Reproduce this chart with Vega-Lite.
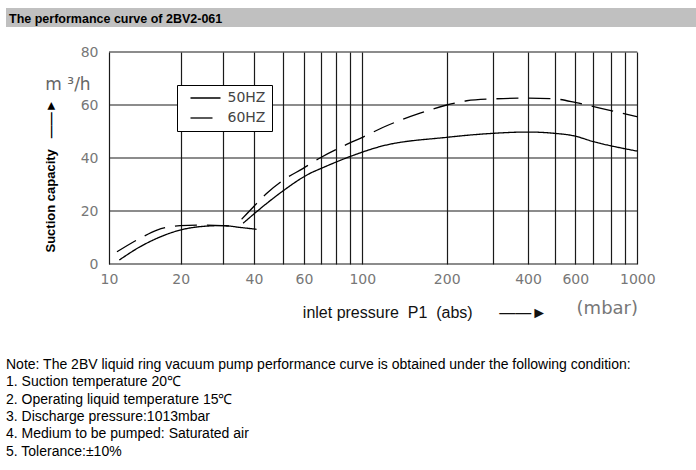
{
  "$schema": "https://vega.github.io/schema/vega-lite/v6.json",
  "padding": {"left": 6, "top": 8, "right": 0, "bottom": 0},
  "spacing": 18,
  "background": "white",
  "config": {"view": {"stroke": null}, "font": "Liberation Sans"},
  "vconcat": [
    {
      "width": 690,
      "height": 19,
      "view": {"fill": "#c0c0c0", "stroke": null},
      "data": {"values": [{"t": "The performance curve of 2BV2-061"}]},
      "mark": {"type": "text", "align": "left", "baseline": "middle", "dx": 3, "dy": 1, "font": "Liberation Sans", "fontWeight": "bold", "fontSize": 12.5, "color": "#000"},
      "encoding": {
        "x": {"datum": 0, "type": "quantitative", "scale": {"domain": [0, 1]}, "axis": null},
        "y": {"datum": 0.5, "type": "quantitative", "scale": {"domain": [0, 1]}, "axis": null},
        "text": {"field": "t"}
      }
    },
    {
      "width": 632,
      "height": 212,
      "layer": [
        {
          "data": {"values": [{"q": 0}, {"q": 20}, {"q": 40}, {"q": 60}, {"q": 80}]},
          "mark": {"type": "rule", "color": "#1a1a1a", "strokeWidth": 1.2},
          "encoding": {
            "x": {"datum": 10, "type": "quantitative"},
            "x2": {"datum": 1000},
            "y": {"field": "q", "type": "quantitative"}
          }
        },
        {
          "data": {"values": [
            {"series": "50HZ", "seg": "a", "p": 11.05, "q": 1.5},
            {"series": "50HZ", "seg": "a", "p": 13.5, "q": 6.5},
            {"series": "50HZ", "seg": "a", "p": 15.9, "q": 9.7},
            {"series": "50HZ", "seg": "a", "p": 19.9, "q": 12.8},
            {"series": "50HZ", "seg": "a", "p": 24.1, "q": 14.1},
            {"series": "50HZ", "seg": "a", "p": 30, "q": 14.5},
            {"series": "50HZ", "seg": "a", "p": 35.2, "q": 13.8},
            {"series": "50HZ", "seg": "a", "p": 40.8, "q": 13.1},
            {"series": "50HZ", "seg": "b", "p": 36.2, "q": 15.4},
            {"series": "50HZ", "seg": "b", "p": 44.2, "q": 22.9},
            {"series": "50HZ", "seg": "b", "p": 50, "q": 27.5},
            {"series": "50HZ", "seg": "b", "p": 63.3, "q": 34.2},
            {"series": "50HZ", "seg": "b", "p": 70, "q": 36.1},
            {"series": "50HZ", "seg": "b", "p": 90, "q": 40.5},
            {"series": "50HZ", "seg": "b", "p": 115.6, "q": 44.3},
            {"series": "50HZ", "seg": "b", "p": 200, "q": 47.8},
            {"series": "50HZ", "seg": "b", "p": 300, "q": 49.3},
            {"series": "50HZ", "seg": "b", "p": 400, "q": 49.8},
            {"series": "50HZ", "seg": "b", "p": 500, "q": 49.3},
            {"series": "50HZ", "seg": "b", "p": 590, "q": 48.4},
            {"series": "50HZ", "seg": "b", "p": 700, "q": 46.2},
            {"series": "50HZ", "seg": "b", "p": 1000, "q": 42.6},
            {"series": "60HZ", "seg": "a", "p": 10.8, "q": 4.6},
            {"series": "60HZ", "seg": "a", "p": 13.5, "q": 9.7},
            {"series": "60HZ", "seg": "a", "p": 15.9, "q": 12.8},
            {"series": "60HZ", "seg": "a", "p": 19.9, "q": 14.5},
            {"series": "60HZ", "seg": "a", "p": 23.3, "q": 14.7},
            {"series": "60HZ", "seg": "a", "p": 30, "q": 14.5},
            {"series": "60HZ", "seg": "a", "p": 33, "q": 14.2},
            {"series": "60HZ", "seg": "b", "p": 35.7, "q": 16.9},
            {"series": "60HZ", "seg": "b", "p": 41.4, "q": 23.5},
            {"series": "60HZ", "seg": "b", "p": 44.2, "q": 26.7},
            {"series": "60HZ", "seg": "b", "p": 50.3, "q": 31.7},
            {"series": "60HZ", "seg": "b", "p": 59.6, "q": 36.1},
            {"series": "60HZ", "seg": "b", "p": 70, "q": 40.3},
            {"series": "60HZ", "seg": "b", "p": 85.3, "q": 44.5},
            {"series": "60HZ", "seg": "b", "p": 101, "q": 48},
            {"series": "60HZ", "seg": "b", "p": 118.8, "q": 51.6},
            {"series": "60HZ", "seg": "b", "p": 160.7, "q": 56.9},
            {"series": "60HZ", "seg": "b", "p": 200, "q": 60},
            {"series": "60HZ", "seg": "b", "p": 238.6, "q": 61.6},
            {"series": "60HZ", "seg": "b", "p": 300, "q": 62.3},
            {"series": "60HZ", "seg": "b", "p": 400, "q": 62.6},
            {"series": "60HZ", "seg": "b", "p": 500, "q": 62.3},
            {"series": "60HZ", "seg": "b", "p": 604, "q": 60.9},
            {"series": "60HZ", "seg": "b", "p": 736, "q": 58.8},
            {"series": "60HZ", "seg": "b", "p": 1000, "q": 55.6}
          ]},
          "mark": {"type": "line", "interpolate": "monotone", "color": "black", "strokeWidth": 1.3},
          "encoding": {
            "x": {
              "field": "p", "type": "quantitative",
              "scale": {
                "type": "log", "nice": false,
                "domain": [10, 20, 30, 40, 50, 60, 70, 80, 90, 100, 200, 300, 400, 500, 600, 700, 800, 900, 1000],
                "range": [103, 174.7, 216.7, 248, 276.7, 298, 315.3, 329.7, 343.7, 356.3, 440.7, 486.7, 522, 548.7, 569.3, 587.3, 605, 619, 631.3]
              },
              "axis": {
                "values": [10, 20, 30, 40, 50, 60, 70, 80, 90, 100, 200, 300, 400, 500, 600, 700, 800, 900, 1000],
                "format": "d",
                "labelExpr": "indexof([10,20,40,60,100,200,400,600,1000], datum.value) >= 0 ? datum.label : ''",
                "labelOverlap": false,
                "labelFlush": false,
                "grid": true, "gridColor": "#1a1a1a", "gridWidth": 1.2, "gridOpacity": 1,
                "ticks": false, "domain": false,
                "labelFont": "DejaVu Sans", "labelFontSize": 14, "labelColor": "#777", "labelPadding": 8,
                "minExtent": 76,
                "title": "inlet pressure\u00a0\u00a0P1\u00a0\u00a0(abs)\u00a0\u00a0\u00a0\u00a0\u00a0\u00a0——►",
                "titleFont": "Liberation Sans", "titleFontWeight": "normal", "titleFontSize": 16, "titleColor": "#111",
                "titleX": 418.5, "titleY": 48, "titleAlign": "center", "titleBaseline": "middle"
              }
            },
            "y": {
              "field": "q", "type": "quantitative",
              "scale": {"domain": [0, 80], "nice": false},
              "axis": {
                "values": [0, 20, 40, 60, 80],
                "grid": false,
                "offset": -103,
                "ticks": false, "domain": false,
                "labelFont": "DejaVu Sans", "labelFontSize": 14, "labelColor": "#777", "labelPadding": 11,
                "title": "Suction capacity\u00a0\u00a0\u00a0——►",
                "titleFont": "Liberation Sans", "titleFontWeight": "bold", "titleFontSize": 13, "titleColor": "#000",
                "titleX": -58.5, "titleY": 123.5, "titleAngle": -90, "titleAlign": "center", "titleBaseline": "middle"
              }
            },
            "strokeDash": {
              "field": "series", "type": "nominal",
              "scale": {"domain": ["50HZ", "60HZ"], "range": [[1, 0], [22, 10]]},
              "legend": {
                "title": null, "orient": "none", "legendX": 171, "legendY": 77,
                "strokeColor": "black", "fillColor": "white", "padding": 6,
                "symbolType": "M-3,0H3", "symbolSize": 100, "symbolStrokeWidth": 1.3, "symbolStrokeColor": "black",
                "symbolOffset": 15.5,
                "labelFont": "DejaVu Sans", "labelFontSize": 14, "labelColor": "#444", "labelOffset": 15,
                "rowPadding": 6,
                "encode": {"symbols": {"update": {"strokeDash": {"signal": "datum.value === '60HZ' ? [11,7] : [1,0]"}}}}
              }
            },
            "detail": {"field": "seg"}
          }
        },
        {
          "data": {"values": [{"u": "m ³/h"}]},
          "mark": {"type": "text", "align": "center", "baseline": "middle", "dx": -41, "dy": 33, "font": "DejaVu Sans", "fontSize": 17, "color": "#666"},
          "encoding": {
            "x": {"datum": 10, "type": "quantitative"},
            "y": {"datum": 80, "type": "quantitative"},
            "text": {"field": "u"}
          }
        },
        {
          "data": {"values": [{"u": "(mbar)"}]},
          "mark": {"type": "text", "align": "center", "baseline": "middle", "dx": 14, "dy": 45, "font": "DejaVu Sans", "fontSize": 18, "color": "#777"},
          "encoding": {
            "x": {"datum": 700, "type": "quantitative"},
            "y": {"datum": 0, "type": "quantitative"},
            "text": {"field": "u"}
          }
        }
      ]
    },
    {
      "width": 680,
      "height": 86.5,
      "data": {"values": [
        {"i": 0, "t": "Note: The 2BV liquid ring vacuum pump performance curve is obtained under the following condition:"},
        {"i": 1, "t": "1. Suction temperature 20℃"},
        {"i": 2, "t": "2. Operating liquid temperature 15℃"},
        {"i": 3, "t": "3. Discharge pressure:1013mbar"},
        {"i": 4, "t": "4. Medium to be pumped: Saturated air"},
        {"i": 5, "t": "5. Tolerance:±10%"}
      ]},
      "mark": {"type": "text", "align": "left", "baseline": "middle", "font": "Liberation Sans", "fontSize": 14, "color": "#000"},
      "encoding": {
        "x": {"datum": 0, "type": "quantitative", "scale": {"domain": [0, 1]}, "axis": null},
        "y": {"field": "i", "type": "ordinal", "scale": {"type": "point", "padding": 0}, "axis": null},
        "text": {"field": "t"}
      }
    }
  ]
}
